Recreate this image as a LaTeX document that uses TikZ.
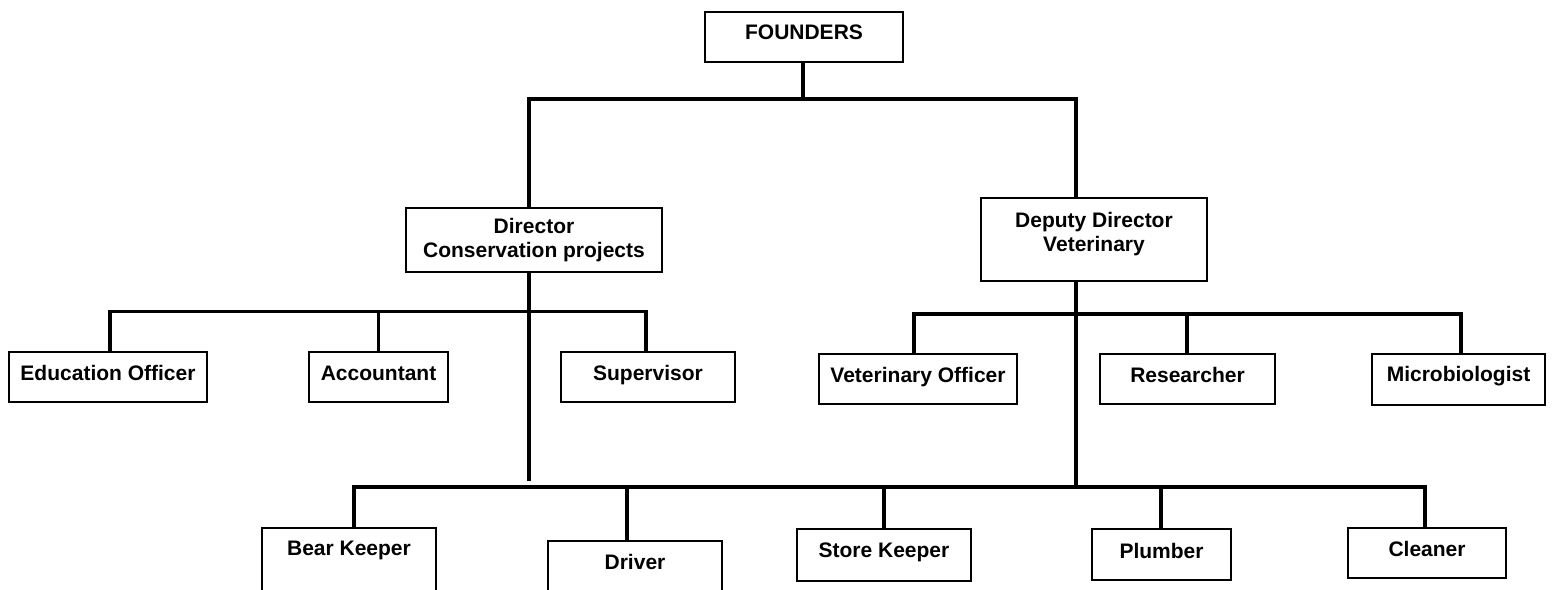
\documentclass[tikz,border=0pt]{standalone}
\usepackage{fontspec}
\setmainfont{Liberation Sans}
\newcommand\twoline[2]{\begin{tabular}[t]{@{}c@{}}#1\\#2\end{tabular}}
\begin{document}
\begin{tikzpicture}[x=1pt,y=-1pt,
  box/.style={draw, line width=1.5pt, inner xsep=0pt, inner ysep=0pt, anchor=north,
    font=\fontsize{21}{24}\selectfont\bfseries},
  conn/.style={line width=3.6pt, line join=miter}]
\useasboundingbox (0,0) rectangle (1552,589);
\clip (0,0) rectangle (1552,589);
% boxes
\node[box, minimum width=198pt, text height=28pt, text depth=22pt] (found) at (804,11) {FOUNDERS};
\node[box, minimum width=256pt, text height=26pt, text depth=38pt] (dir) at (534,207) {\twoline{Director}{Conservation projects}};
\node[box, minimum width=226pt, text height=30pt, text depth=53pt] (dep) at (1094,197) {\twoline{Deputy Director}{Veterinary}};
\node[box, minimum width=198pt, text height=29pt, text depth=21pt] (edu) at (108,351) {Education Officer};
\node[box, minimum width=139pt, text height=29pt, text depth=21pt] (acc) at (378.5,351) {Accountant};
\node[box, minimum width=174pt, text height=29pt, text depth=21pt] (sup) at (648,351) {Supervisor};
\node[box, minimum width=198pt, text height=29pt, text depth=21pt] (vet) at (918,353) {Veterinary Officer};
\node[box, minimum width=175pt, text height=29pt, text depth=21pt] (res) at (1187.5,353) {Researcher};
\node[box, minimum width=173pt, text height=28pt, text depth=23pt] (mic) at (1458.5,353) {Microbiologist};
\node[box, minimum width=174pt, text height=28pt, text depth=80pt] (bk) at (349,527) {Bear Keeper};
\node[box, minimum width=174pt, text height=29pt, text depth=80pt] (dr) at (635,540) {Driver};
\node[box, minimum width=174pt, text height=29pt, text depth=23pt] (sk) at (884,528) {Store Keeper};
\node[box, minimum width=139pt, text height=30pt, text depth=21pt] (pl) at (1161.5,528) {Plumber};
\node[box, minimum width=158pt, text height=29pt, text depth=21pt] (cl) at (1427,527) {Cleaner};
% junction points
\coordinate (j0) at (803,99); \coordinate (jL) at (529,99); \coordinate (jR) at (1076,99);
\coordinate (d1) at (529,311.5); \coordinate (dEdu) at (110,311.5); \coordinate (dAcc) at (378.5,311.5);
\coordinate (dSup) at (646,311.5); \coordinate (dEnd) at (529,481);
\coordinate (v1) at (1076,314); \coordinate (vVet) at (914,314); \coordinate (vRes) at (1187,314); \coordinate (vMic) at (1461,314);
\coordinate (b1) at (1076,487); \coordinate (bBk) at (354,487); \coordinate (bDr) at (627,487);
\coordinate (bSk) at (884,487); \coordinate (bPl) at (1161,487); \coordinate (bCl) at (1425,487);
% connectors
\draw[conn] (j0 |- found.south) -- (j0);
\draw[conn] (jL |- dir.north) -- (jL) -- (jR) -- (jR |- dep.north);
\draw[conn] (d1 |- dir.south) -- (dEnd);
\draw[conn] (dEdu |- edu.north) -- (dEdu) -- (dSup) -- (dSup |- sup.north);
\draw[conn] (dAcc) -- (dAcc |- acc.north);
\draw[conn] (v1 |- dep.south) -- (b1);
\draw[conn] (vVet |- vet.north) -- (vVet) -- (vMic) -- (vMic |- mic.north);
\draw[conn] (vRes) -- (vRes |- res.north);
\draw[conn] (bBk |- bk.north) -- (bBk) -- (bCl) -- (bCl |- cl.north);
\draw[conn] (bDr) -- (bDr |- dr.north);
\draw[conn] (bSk) -- (bSk |- sk.north);
\draw[conn] (bPl) -- (bPl |- pl.north);
\end{tikzpicture}
\end{document}
